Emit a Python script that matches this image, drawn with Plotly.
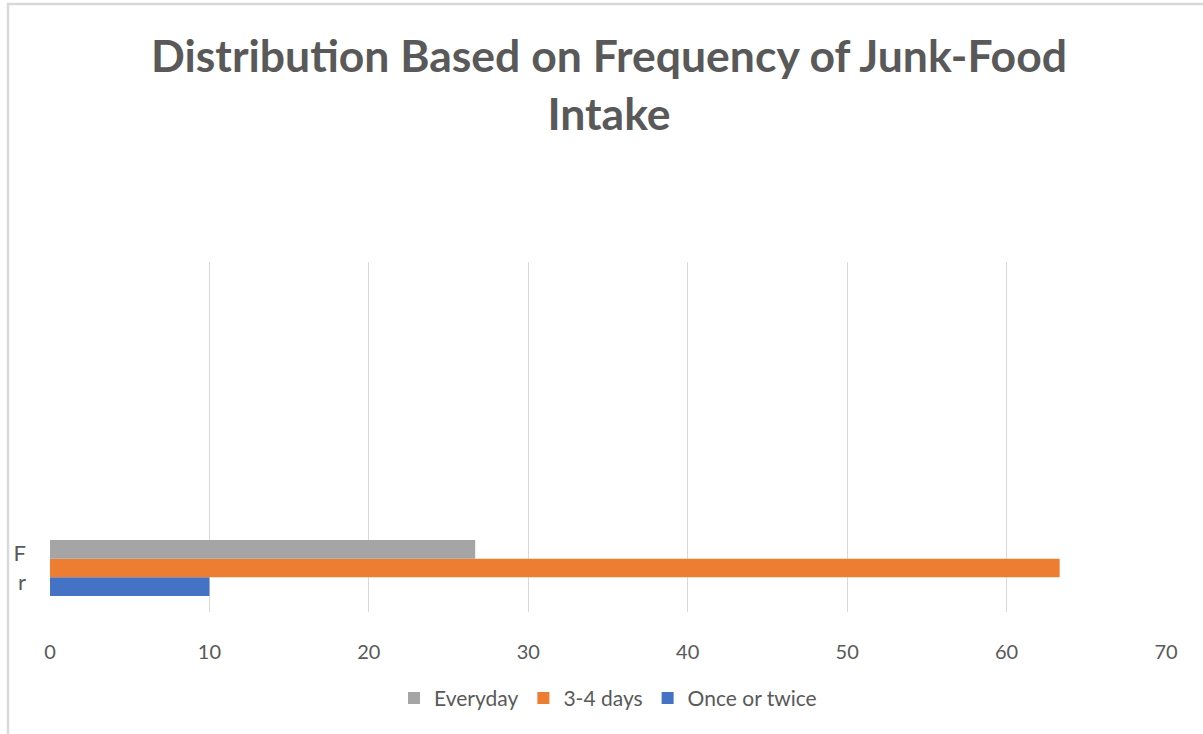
import plotly.graph_objects as go

# Frequency of junk-food intake (percent of respondents)
categories = ["F<br>r"]
series_names = ["Once or twice", "3-4 days", "Everyday"]
series_values = [[10.0], [63.33], [26.67]]
series_colors = ["#4472C4", "#ED7D31", "#A5A5A5"]
x_ticks = [0, 10, 20, 30, 40, 50, 60, 70]
title_text = "<b>Distribution Based on Frequency of Junk-Food<br>Intake</b>"

fig = go.Figure()
for name, vals, color in zip(series_names, series_values, series_colors):
    fig.add_trace(go.Bar(
        y=categories, x=vals, name=name, orientation="h",
        marker=dict(color=color, line=dict(width=0)),
    ))

TXT = "#595959"
W, H = 1203, 734
L, R, T, B = 50, 37, 262, 122
pw, ph = W - L - R, H - T - B

fig.update_layout(
    width=W, height=H,
    margin=dict(l=L, r=R, t=T, b=B),
    paper_bgcolor="white", plot_bgcolor="white",
    barmode="group", bargap=0.5, bargroupgap=0,
    font=dict(family="Lato, sans-serif", color=TXT, size=20),
    xaxis=dict(
        range=[0, 70], tickvals=x_ticks, showgrid=True,
        gridcolor="#D9D9D9", gridwidth=1, zeroline=False,
        showline=False, ticks="", ticklabelstandoff=26,
        tickfont=dict(size=20, color=TXT), fixedrange=True,
    ),
    yaxis=dict(
        range=[-0.393, 2.732], showgrid=False, zeroline=False,
        showline=False, ticks="", ticklabelstandoff=23,
        tickfont=dict(size=22, color=TXT), fixedrange=True,
    ),
    legend=dict(
        orientation="h", traceorder="reversed",
        x=0.5, xanchor="center", y=-0.188, yanchor="top",
        font=dict(size=21, color=TXT), itemwidth=30,
        bgcolor="rgba(0,0,0,0)",
    ),
    showlegend=True,
)

# Chart title
fig.add_annotation(
    text=title_text, xref="paper", yref="paper",
    x=(609 - L) / pw, y=(H - B - 26) / ph,
    xanchor="center", yanchor="top", showarrow=False,
    font=dict(size=44.5, color=TXT, family="Lato, sans-serif"),
)

# Chart area frame (left and top edges fall within the page)
fig.add_shape(
    type="rect", xref="paper", yref="paper",
    x0=(8 - L) / pw, x1=(W + 20 - L) / pw,
    y0=-(H + 20 - (H - B)) / ph, y1=(H - B - 4) / ph,
    line=dict(color="#D9D9D9", width=2.5), fillcolor="rgba(0,0,0,0)",
    layer="below",
)

fig.write_html("out.html")
